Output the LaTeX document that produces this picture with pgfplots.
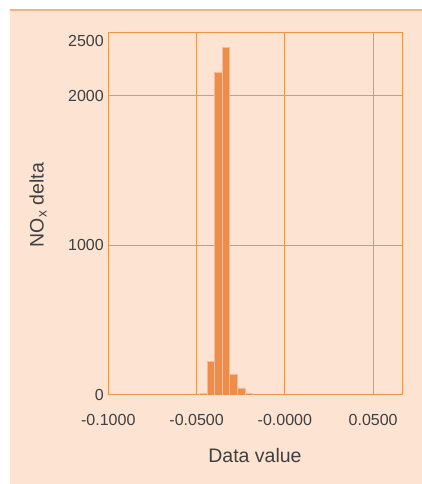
\documentclass[border=0pt]{standalone}
\usepackage{pgfplots}
\pgfplotsset{compat=1.18}
\usepackage{fontspec}
\setmainfont{Liberation Sans}
\definecolor{peach}{HTML}{FCE3D2}
\definecolor{edge}{HTML}{F5B184}
\definecolor{gridc}{HTML}{F0944C}
\definecolor{barf}{HTML}{EE8D4A}
\definecolor{bare}{HTML}{F6BC95}
\definecolor{txt}{HTML}{404040}
\begin{document}
\begin{tikzpicture}[x=1pt,y=1pt]
\path[use as bounding box] (0,0) rectangle (422,484);
\fill[peach] (10,0) rectangle (422,474);
\draw[edge, line width=1.5pt] (10,474) -- (422,474);
\begin{axis}[
  at={(108.3pt,89pt)}, anchor=south west,
  scale only axis, width=294pt, height=362pt,
  xmin=-0.1, xmax=0.0665, ymin=0, ymax=2420,
  axis line style={gridc, line width=1pt},
  grid=major, major grid style={gridc, line width=1pt},
  major tick length=0pt,
  xtick={-0.1,-0.05,0,0.05},
  xticklabels={-0.1000,-0.0500,-0.0000,0.0500},
  ytick={0,1000,2000},
  yticklabels={0,1000,2000},
  extra y ticks={2368},
  extra y tick labels={2500},
  extra y tick style={grid=none},
  ticklabel style={font=\fontsize{16}{19}\selectfont, text=txt},
  xticklabel style={yshift=-16pt},
  yticklabel style={xshift=-1pt},
  axis background/.style={fill=peach},
]
\addplot[ybar interval, fill=barf, draw=bare, line width=0.7pt] coordinates {
(-0.0485,13) (-0.0441,227) (-0.0398,2154) (-0.0355,2323) (-0.0312,140) (-0.0269,47) (-0.0226,13) (-0.0183,13)
};
\end{axis}
\node[text=txt, font=\fontsize{19.5}{22}\selectfont] at (255,28) {Data value};
\node[text=txt, font=\fontsize{19.5}{22}\selectfont, rotate=90] at (38,279) {NO\textsubscript{x} delta};
\end{tikzpicture}
\end{document}
